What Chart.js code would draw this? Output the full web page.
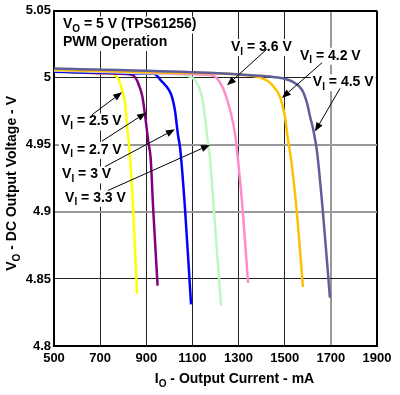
<!DOCTYPE html>
<html lang="en">
<head>
<meta charset="UTF-8">
<title>TPS61256 Output Voltage vs Output Current</title>
<style>
    html, body {
        margin: 0;
        padding: 0;
        background: #ffffff;
    }
</style>
</head>
<body>
<canvas id="chart" width="400" height="395"></canvas>

<script src="https://cdn.jsdelivr.net/npm/chart.js"></script>
<script>
    // Tick labels
    const xTickLabels = ['500', '700', '900', '1100', '1300', '1500', '1700', '1900'];
    const yTickLabels = ['4.8', '4.85', '4.9', '4.95', '5', '5.05'];

    // Output current (mA) / output voltage (V) for each input voltage
    const current25 = [500, 600, 700, 752, 782, 795, 808, 817, 830, 843, 860];
    const vout25 = [5.0045, 5.004, 5.0035, 5.003, 4.998, 4.991, 4.981, 4.964, 4.940, 4.902, 4.839];

    const current27 = [500, 700, 834, 855, 868, 883, 897, 909, 919, 930, 949];
    const vout27 = [5.005, 5.0035, 5.0025, 4.9996, 4.9945, 4.986, 4.969, 4.952, 4.940, 4.902, 4.845];

    const current30 = [500, 700, 900, 933, 964, 998, 1011, 1024, 1037, 1047, 1068, 1094];
    const vout30 = [5.0045, 5.004, 5.0032, 5.003, 4.998, 4.991, 4.986, 4.976, 4.958, 4.947, 4.902, 4.831];

    const current33 = [500, 800, 1000, 1076, 1120, 1141, 1154, 1167, 1176, 1193, 1224];
    const vout33 = [5.0055, 5.004, 5.003, 5.0018, 4.996, 4.986, 4.971, 4.952, 4.940, 4.902, 4.830];

    const current36 = [500, 900, 1100, 1189, 1219, 1241, 1263, 1284, 1297, 1319, 1341];
    const vout36 = [5.006, 5.004, 5.0028, 5.0018, 4.9966, 4.9886, 4.976, 4.959, 4.940, 4.899, 4.847];

    const current42 = [500, 1000, 1349, 1423, 1449, 1479, 1501, 1514, 1527, 1553, 1579];
    const vout42 = [5.006, 5.004, 5.0018, 4.998, 4.994, 4.986, 4.971, 4.954, 4.940, 4.899, 4.844];

    const current45 = [500, 1133, 1306, 1436, 1492, 1536, 1575, 1597, 1610, 1623, 1640, 1666, 1696];
    const vout45 = [5.0069, 5.004, 5.0025, 5.001, 4.9996, 4.997, 4.991, 4.981, 4.971, 4.962, 4.945, 4.899, 4.836];

    const FONT = 'Arial, "Liberation Sans", Helvetica, sans-serif';

    function pts(xs, ys) {
        return xs.map((x, i) => ({ x: x, y: ys[i] }));
    }

    function line(label, xs, ys, color) {
        return {
            label: label,
            data: pts(xs, ys),
            borderColor: color,
            backgroundColor: color,
            borderWidth: 2.5,
            pointRadius: 0,
            cubicInterpolationMode: 'monotone',
            fill: false,
        };
    }

    // Text notes and arrows, placed in data units (mA, V)
    const notes = [
        { main: 'V', sub: 'O', rest: ' = 5 V (TPS61256)', x: 539, y: 5.0368 },
        { main: 'PWM Operation', sub: '', rest: '', x: 539, y: 5.0237 },
        { main: 'V', sub: 'I', rest: ' = 2.5 V', x: 530, y: 4.9645 },
        { main: 'V', sub: 'I', rest: ' = 2.7 V', x: 530, y: 4.9433 },
        { main: 'V', sub: 'I', rest: ' = 3 V', x: 535, y: 4.925 },
        { main: 'V', sub: 'I', rest: ' = 3.3 V', x: 548, y: 4.9075 },
        { main: 'V', sub: 'I', rest: ' = 3.6 V', x: 1267, y: 5.02 },
        { main: 'V', sub: 'I', rest: ' = 4.2 V', x: 1566, y: 5.0135 },
        { main: 'V', sub: 'I', rest: ' = 4.5 V', x: 1622, y: 4.9937 },
    ];

    const arrows = [
        { from: [665, 4.9725], to: [795, 4.9893] },
        { from: [708, 4.9528], to: [899, 4.974] },
        { from: [721, 4.9338], to: [1024, 4.9616] },
        { from: [734, 4.916], to: [1176, 4.95] },
        { from: [1423, 5.0215], to: [1250, 4.9944] },
        { from: [1662, 5.0113], to: [1488, 4.985] },
        { from: [1740, 4.9922], to: [1631, 4.96] },
    ];

    // draws "main" + subscript + "rest", returns total width
    function drawSub(c, x, y, main, sub, rest, size, measureOnly) {
        c.font = 'bold ' + size + 'px ' + FONT;
        if (!measureOnly) c.fillText(main, x, y);
        let w = c.measureText(main).width;
        if (sub) {
            c.font = 'bold ' + Math.round(size * 0.72) + 'px ' + FONT;
            if (!measureOnly) c.fillText(sub, x + w, y + size * 0.25);
            w += c.measureText(sub).width;
            c.font = 'bold ' + size + 'px ' + FONT;
        }
        if (!measureOnly) c.fillText(rest, x + w, y);
        return w + c.measureText(rest).width;
    }

    function drawArrow(c, x1, y1, x2, y2) {
        const a = Math.atan2(y2 - y1, x2 - x1);
        const len = 9, half = 3.5;
        const bx = x2 - len * Math.cos(a), by = y2 - len * Math.sin(a);
        c.beginPath();
        c.moveTo(x1, y1);
        c.lineTo(bx, by);
        c.stroke();
        c.beginPath();
        c.moveTo(x2, y2);
        c.lineTo(bx + half * Math.sin(a), by - half * Math.cos(a));
        c.lineTo(bx - half * Math.sin(a), by + half * Math.cos(a));
        c.closePath();
        c.fill();
    }

    const annotate = {
        id: 'annotate',
        beforeDatasetsDraw(chart) {
            const c = chart.ctx, sx = chart.scales.x, sy = chart.scales.y;
            c.save();
            c.textBaseline = 'alphabetic';
            c.textAlign = 'left';
            notes.forEach(n => {
                const px = sx.getPixelForValue(n.x), py = sy.getPixelForValue(n.y);
                const w = drawSub(c, px, py, n.main, n.sub, n.rest, 14, true);
                c.fillStyle = '#ffffff';
                c.fillRect(px - 2, py - 12, w + 4, 17);
                c.fillStyle = '#000000';
                drawSub(c, px, py, n.main, n.sub, n.rest, 14, false);
            });
            c.restore();
        },
        afterDatasetsDraw(chart) {
            const c = chart.ctx, sx = chart.scales.x, sy = chart.scales.y;
            c.save();
            c.strokeStyle = '#000000';
            c.fillStyle = '#000000';
            c.lineWidth = 1;
            arrows.forEach(a => {
                drawArrow(c,
                    sx.getPixelForValue(a.from[0]), sy.getPixelForValue(a.from[1]),
                    sx.getPixelForValue(a.to[0]), sy.getPixelForValue(a.to[1]));
            });
            c.restore();
        },
        afterDraw(chart) {
            const c = chart.ctx, ca = chart.chartArea;
            c.save();
            c.fillStyle = '#000000';
            c.textBaseline = 'alphabetic';
            c.textAlign = 'left';
            // x axis title
            let w = drawSub(c, 0, 0, 'I', 'O', ' - Output Current - mA', 14, true);
            drawSub(c, (ca.left + ca.right) / 2 + 19 - w / 2, chart.height - 12, 'I', 'O', ' - Output Current - mA', 14, false);
            // y axis title
            w = drawSub(c, 0, 0, 'V', 'O', ' - DC Output Voltage - V', 14, true);
            c.translate(16, (ca.top + ca.bottom) / 2 + 5);
            c.rotate(-Math.PI / 2);
            drawSub(c, -w / 2, 0, 'V', 'O', ' - DC Output Voltage - V', 14, false);
            c.restore();
        }
    };

    const near = (a, b) => Math.abs(a - b) < 1e-6;

    const ctx = document.getElementById('chart').getContext('2d');
    const chart = new Chart(ctx, {
        type: 'scatter',
        data: {
            datasets: [
                line('VI = 4.5 V', current45, vout45, '#5e5e9a'),
                line('VI = 4.2 V', current42, vout42, '#ffc000'),
                line('VI = 3.6 V', current36, vout36, '#ff8cc8'),
                line('VI = 3.3 V', current33, vout33, '#bff7bf'),
                line('VI = 3 V', current30, vout30, '#0000ff'),
                line('VI = 2.7 V', current27, vout27, '#800080'),
                line('VI = 2.5 V', current25, vout25, '#ffff00'),
            ].map(d => Object.assign(d, { showLine: true })),
        },
        options: {
            responsive: false,
            animation: false,
            layout: {
                autoPadding: false,
                padding: { left: 0, right: 23, top: 4, bottom: 0 },
            },
            plugins: {
                legend: { display: false },
                tooltip: { enabled: false },
            },
            scales: {
                x: {
                    type: 'linear',
                    min: 500,
                    max: 1900,
                    afterFit(scale) { scale.height = 49; },
                    ticks: {
                        stepSize: 200,
                        padding: 5,
                        color: '#000000',
                        font: { family: FONT, size: 13, weight: 'bold' },
                        callback: (v, i) => xTickLabels[i],
                    },
                    grid: {
                        drawTicks: false,
                        color: c => c.tick && near(c.tick.value, 1700) ? '#999999' : (c.tick && near(c.tick.value, 1900) ? '#000000' : '#222222'),
                        lineWidth: c => c.tick && (near(c.tick.value, 1700) || near(c.tick.value, 1900)) ? 2 : 1,
                    },
                    border: { color: '#000000', width: 2 },
                },
                y: {
                    type: 'linear',
                    min: 4.8,
                    max: 5.05,
                    afterFit(scale) { scale.width = 54; },
                    ticks: {
                        stepSize: 0.05,
                        padding: 3,
                        color: '#000000',
                        font: { family: FONT, size: 13, weight: 'bold' },
                        callback: (v, i) => yTickLabels[i],
                    },
                    grid: {
                        drawTicks: false,
                        color: c => {
                            if (!c.tick) return '#222222';
                            const v = c.tick.value;
                            if (near(v, 4.9) || near(v, 4.95)) return '#999999';
                            if (near(v, 5.05)) return '#000000';
                            return '#222222';
                        },
                        lineWidth: c => {
                            if (!c.tick) return 1;
                            const v = c.tick.value;
                            return (near(v, 4.9) || near(v, 4.95) || near(v, 5.05)) ? 2 : 1;
                        },
                    },
                    border: { color: '#000000', width: 2 },
                },
            },
        },
        plugins: [annotate],
    });
</script>
</body>
</html>
